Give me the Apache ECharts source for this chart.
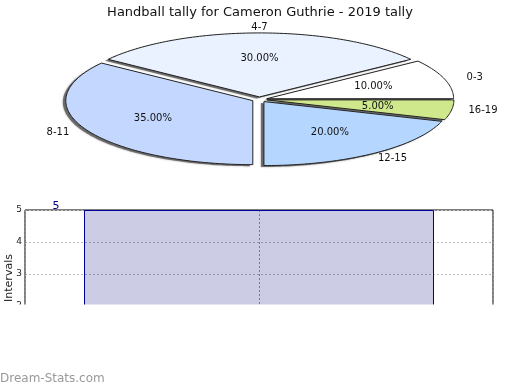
<!DOCTYPE html>
<html>
<head>
<meta charset="utf-8">
<script src="https://cdn.jsdelivr.net/npm/echarts@6/dist/echarts.min.js"></script>
<style>
html,body{margin:0;padding:0;background:#fff;}
#chart{width:520px;height:390px;}
</style>
</head>
<body>
<div id="chart"></div>
<script>
// ---- data ----
const categories = ['0-3', '4-7', '8-11', '12-15', '16-19'];
const percents = [10, 30, 35, 20, 5];
const barValues = [5];
const yMin = 0, yMax = 5, yStep = 1;
const title = 'Handball tally for Cameron Guthrie - 2019 tally';

// ---- styles ----
const sliceColors = ['#ffffff', '#eaf2ff', '#c4d8ff', '#b5d6ff', '#cfe88b'];
const FONT = '"DejaVu Sans", sans-serif';
const geo = { cx: 259.5, cy: 99.5, rx: 187, ry: 64, explode: 7.5, inner: 0.6, outerX: 1.21, outerY: 1.13 };

const total = percents.reduce((a, b) => a + b, 0);
const starts = [];
let acc = 0;
percents.forEach(v => { starts.push(acc); acc += v; });

function sliceGeom(i) {
  const a0 = starts[i] / total * Math.PI * 2;
  const a1 = (starts[i] + percents[i]) / total * Math.PI * 2;
  const am = (a0 + a1) / 2;
  const cx = geo.cx + geo.explode * Math.cos(am);
  const cy = geo.cy - geo.explode * Math.sin(am) * geo.ry / geo.rx;
  const pts = [[cx, cy]];
  const n = Math.max(4, Math.ceil((a1 - a0) / 0.02));
  for (let k = 0; k <= n; k++) {
    const a = a0 + (a1 - a0) * k / n;
    pts.push([cx + geo.rx * Math.cos(a), cy - geo.ry * Math.sin(a)]);
  }
  return { am, cx, cy, pts };
}

function renderShadow(params) {
  const g = sliceGeom(params.dataIndex);
  return {
    type: 'polygon',
    x: -3, y: 1.5,
    shape: { points: g.pts },
    style: { fill: 'rgba(80,80,80,0.75)', shadowBlur: 2, shadowColor: 'rgba(80,80,80,0.6)' }
  };
}

function renderSlice(params) {
  const i = params.dataIndex;
  const g = sliceGeom(i);
  const pct = (percents[i] / total * 100).toFixed(2) + '%';
  return {
    type: 'group',
    children: [
      {
        type: 'polygon',
        shape: { points: g.pts },
        style: { fill: sliceColors[i], stroke: '#222', lineWidth: 1 }
      },
      {
        type: 'text', z2: 10,
        style: {
          text: pct, x: g.cx + geo.inner * geo.rx * Math.cos(g.am), y: g.cy - geo.inner * geo.ry * Math.sin(g.am),
          textAlign: 'center', textVerticalAlign: 'middle', fill: '#111', font: '10px ' + FONT
        }
      },
      {
        type: 'text', z2: 10,
        style: {
          text: categories[i], x: geo.cx + geo.outerX * geo.rx * Math.cos(g.am), y: geo.cy - geo.outerY * geo.ry * Math.sin(g.am),
          textAlign: 'center', textVerticalAlign: 'middle', fill: '#111', font: '10px ' + FONT
        }
      }
    ]
  };
}

const chart = echarts.init(document.getElementById('chart'));
chart.setOption({
  animation: false,
  backgroundColor: '#fff',
  title: {
    text: title, left: 'center', top: 1,
    textStyle: { fontFamily: FONT, fontSize: 13, fontWeight: 'normal', color: '#111' }
  },
  grid: {
    left: 25, right: 27, top: 210, height: 160,
    outerBoundsMode: 'none', containLabel: false,
    show: true, borderColor: '#000', borderWidth: 1, backgroundColor: 'transparent'
  },
  xAxis: {
    type: 'value', min: 0, max: 2, interval: 1,
    axisLine: { show: false }, axisTick: { show: false }, axisLabel: { show: false },
    splitLine: { show: true, lineStyle: { color: '#999', type: [2, 2], width: 1 } }
  },
  yAxis: {
    type: 'value', min: yMin, max: yMax, interval: yStep,
    name: 'Intervals', nameLocation: 'middle', nameGap: 10, nameRotate: 90, nameMoveOverlap: false,
    nameTextStyle: { fontFamily: FONT, fontSize: 11, color: '#222', padding: [0, 0, 0, 24] },
    axisLine: { show: false },
    axisTick: { show: true, inside: true, length: 2, lineStyle: { color: '#999' } },
    axisLabel: { fontFamily: FONT, fontSize: 9, color: '#222', margin: 3 },
    splitLine: { show: true, lineStyle: { color: '#bbb', type: [2, 2], width: 1 } }
  },
  series: [
    {
      type: 'custom',
      coordinateSystem: 'none',
      renderItem: renderShadow,
      data: percents.map((v, i) => [i, v]),
      silent: true,
      z: 4
    },
    {
      type: 'custom',
      coordinateSystem: 'none',
      renderItem: renderSlice,
      data: percents.map((v, i) => [i, v]),
      z: 5
    },
    {
      type: 'bar',
      data: barValues.map(v => [1, v]),
      barWidth: 350,
      itemStyle: { color: 'rgba(0,0,120,0.2)', borderColor: '#000099', borderWidth: 1 },
      label: {
        show: true, position: [-28, -4], align: 'center', verticalAlign: 'middle',
        formatter: p => String(p.value[1]),
        color: '#000080', fontFamily: FONT, fontSize: 11
      },
      z: 2
    }
  ],
  graphic: [
    { type: 'rect', left: 0, top: 304.5, shape: { width: 520, height: 86 }, style: { fill: '#fff' }, z: 100 },
    {
      type: 'text', left: 0, top: 373, z: 101,
      style: { text: 'Dream-Stats.com', fill: '#999', font: '12px ' + FONT }
    }
  ]
});
</script>
</body>
</html>
